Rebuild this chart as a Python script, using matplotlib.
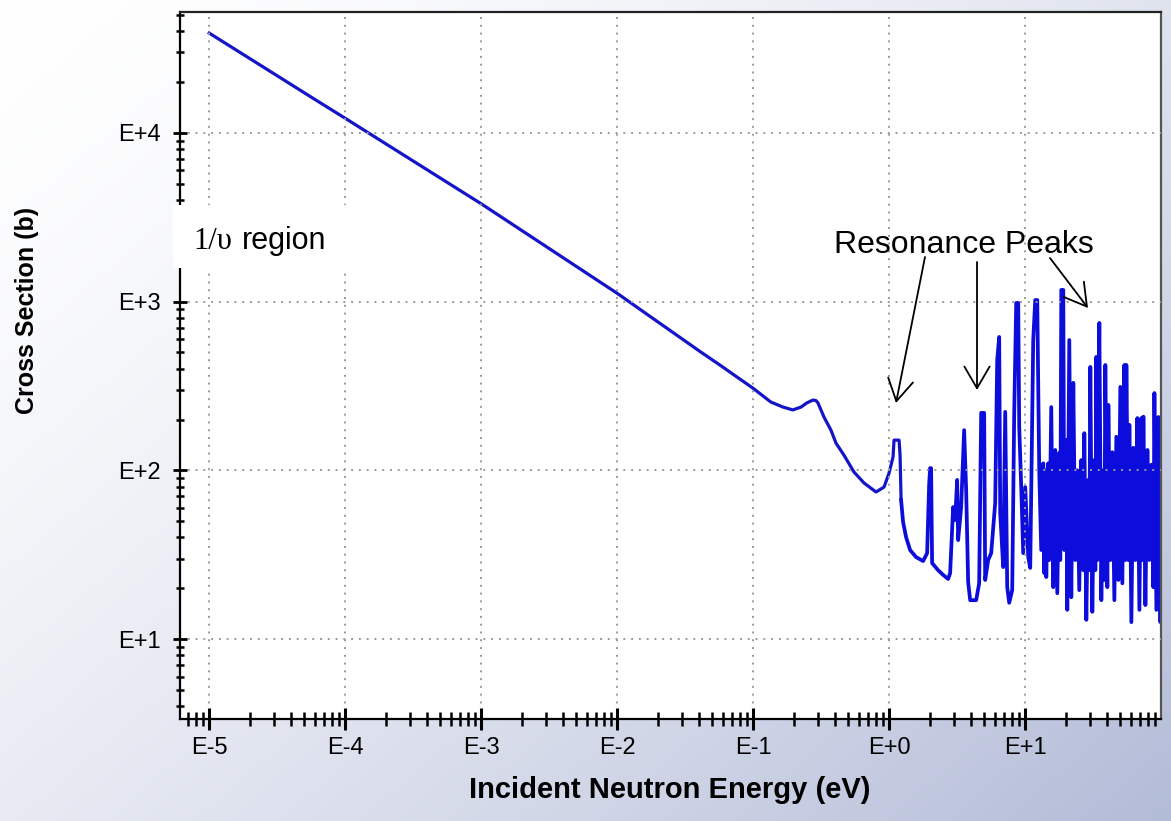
import numpy as np
import matplotlib
matplotlib.use("Agg")
import matplotlib.pyplot as plt
from matplotlib.patches import Rectangle, FancyArrowPatch
from matplotlib.ticker import LogLocator, NullFormatter, FixedLocator, FixedFormatter

plt.rcParams['font.family'] = ['Liberation Sans', 'DejaVu Sans']

# smooth part: 1/v region and the first bumps (energy in eV, cross section in barns)
thermal_energy = [1.0e-5, 6.2e-5, 1.0e-4, 1.0e-3, 1.0e-2, 0.0413, 0.0579, 0.0722,
                  0.0997, 0.135, 0.166, 0.196, 0.225, 0.249, 0.276, 0.290, 0.300,
                  0.332, 0.374, 0.407, 0.466, 0.552, 0.655, 0.802, 0.919, 1.0,
                  1.07, 1.088, 1.185, 1.205]
thermal_xs = [39000, 15500, 12200, 3800, 1120, 502, 417, 368,
              307, 254, 237, 228, 237, 251, 261, 259, 251,
              207, 173, 145, 123, 97.7, 84.1, 74.4, 79.6, 96.4,
              120, 151, 151, 123]

# resonance region up to ~12 eV
res_energy = [1.226, 1.268, 1.334, 1.428, 1.580, 1.780, 1.905, 1.971, 2.004, 2.038,
              2.073, 2.295, 2.498, 2.720, 2.813, 2.960, 3.062, 3.168, 3.222, 3.390,
              3.566, 3.690, 3.817, 3.950, 4.372, 4.599, 4.759, 5.006, 5.092, 5.358,
              5.638, 6.034, 6.243, 6.457, 6.568, 6.911, 7.150, 7.396, 7.650, 8.049,
              8.327, 8.614, 8.911, 9.064, 9.376, 9.699, 10.03, 10.56, 10.92, 11.49,
              11.89, 12.30]
res_xs = [66.7, 49.4, 40.2, 33.7, 30.6, 29.0, 32.3, 81.7, 103, 103,
          28.2, 25.6, 24.0, 22.7, 24.6, 60.6, 50.8, 87.7, 38.6, 60.6,
          173, 76.4, 21.8, 17.0, 17.0, 21.4, 219, 219, 22.4, 29.4,
          32.3, 64.0, 451, 617, 55.8, 26.7, 222, 20.3, 16.4, 19.5,
          219, 981, 981, 181, 79.6, 32.3, 79.6, 30.6, 26.4, 592,
          1021, 1021]

# dense resonances above ~12 eV
dense_energy = [12.51, 12.73, 13.16, 13.62, 13.85, 14.09, 14.33, 14.82, 15.06, 15.59,
                16.13, 16.69, 17.27, 17.86, 18.16, 18.48, 19.11, 19.44, 20.11, 20.45,
                21.16, 21.89, 22.65, 23.42, 24.23, 25.05, 25.93, 26.83, 27.29, 28.23,
                29.20, 29.68, 30.21, 31.25, 32.33, 32.88, 33.44, 34.01, 35.19, 36.40,
                37.65, 38.30, 38.95, 40.30, 41.00, 42.41, 43.87, 45.39, 46.95, 48.57,
                50.23, 51.97, 53.77, 54.68, 55.62, 57.54, 58.52, 60.54, 62.64, 64.79,
                67.03, 69.34, 71.73, 72.95, 74.20, 76.77, 79.41, 82.15, 84.98, 87.90,
                89.41, 92.49, 95.68, 98.99, 102.0]
dense_xs = [312, 96.4, 33.7, 110, 24.6, 100, 23.3, 110, 29.4, 237,
            20.3, 132, 18.7, 127, 29.4, 1172, 1172, 33.7, 151, 14.9,
            592, 17.7, 330, 29.4, 100, 19.5, 115, 25.6, 166, 13.0,
            87.7, 25.6, 410, 14.5, 115, 25.6, 470, 29.4, 747, 17.0,
            100, 22.4, 421, 20.3, 244, 29.4, 128, 17.0, 158, 22.4,
            312, 21.4, 421, 29.4, 421, 29.4, 186, 12.6, 136, 29.4,
            204, 14.9, 204, 29.4, 208, 15.9, 132, 29.4, 108, 20.3,
            287, 14.9, 207, 12.6, 87.7]

x_ticks = [1e-5, 1e-4, 1e-3, 1e-2, 1e-1, 1e0, 1e1]
x_labels = ['E-5', 'E-4', 'E-3', 'E-2', 'E-1', 'E+0', 'E+1']
y_ticks = [1e1, 1e2, 1e3, 1e4]
y_labels = ['E+1', 'E+2', 'E+3', 'E+4']

W, H = 1171, 821
fig = plt.figure(figsize=(W / 100, H / 100), dpi=100)


def px(x, y):
    # image pixel (from top-left) -> figure fraction
    return x / W, 1 - y / H


# gradient background
bg = fig.add_axes([0, 0, 1, 1], zorder=-10)
u, v = np.meshgrid(np.linspace(0, 1, 300), np.linspace(0, 1, 300))
t = np.clip(0.55 * u + 0.45 * v, 0, 1) ** 1.5
c0 = np.array([1.0, 1.0, 1.0])
c1 = np.array([0.70, 0.735, 0.845])
img = c0[None, None, :] * (1 - t[..., None]) + c1[None, None, :] * t[..., None]
bg.imshow(img, aspect='auto', extent=[0, 1, 0, 1], interpolation='bilinear')
bg.axis('off')

left, top = px(180, 12)
right, bottom = px(1161, 719)
ax = fig.add_axes([left, bottom, right - left, top - bottom])
ax.set_facecolor('white')

ax.plot(thermal_energy + res_energy[:1], thermal_xs + res_xs[:1],
        color='#1414c8', lw=2.3, zorder=2)
ax.plot(res_energy + dense_energy, res_xs + dense_xs,
        color='#0c0cdc', lw=2.7, zorder=2)

ax.set_xscale('log')
ax.set_yscale('log')
ax.set_xlim(6.1e-6, 100)
ax.set_ylim(3.36, 52000)

ax.xaxis.set_major_locator(FixedLocator(x_ticks))
ax.xaxis.set_major_formatter(FixedFormatter(x_labels))
ax.yaxis.set_major_locator(FixedLocator(y_ticks))
ax.yaxis.set_major_formatter(FixedFormatter(y_labels))
for axis in (ax.xaxis, ax.yaxis):
    axis.set_minor_locator(LogLocator(base=10, subs=np.arange(2, 10), numticks=30))
    axis.set_minor_formatter(NullFormatter())

ax.tick_params(axis='x', which='major', direction='inout', length=16, width=2.2,
               labelsize=17, pad=5)
ax.tick_params(axis='x', which='minor', direction='inout', length=9.5, width=1.8)
ax.tick_params(axis='y', which='major', direction='inout', length=9.5, width=2.0,
               labelsize=17, pad=9)
ax.tick_params(axis='y', which='minor', direction='inout', length=5.5, width=1.8)

ax.grid(True, which='major', color='#9a9a9a', linestyle=(0, (1, 3)), linewidth=1.4)
ax.set_axisbelow(False)

ax.spines['left'].set_linewidth(1.6)
ax.spines['bottom'].set_linewidth(1.6)
ax.spines['top'].set_linewidth(1.6)
ax.spines['top'].set_color('#222222')
ax.spines['right'].set_linewidth(1.6)
ax.spines['right'].set_color('#555555')

# axis labels
fig.text(*px(670, 790), 'Incident Neutron Energy (eV)', ha='center', va='center',
         fontsize=21, fontweight='bold')
fig.text(*px(27, 310), 'Cross Section (b)', ha='center', va='center', rotation=90,
         fontsize=18, fontweight='bold')

# "1/v region" label on a white box
bx0, by0 = px(173, 268)
bx1, by1 = px(355, 205)
fig.add_artist(Rectangle((bx0, by0), bx1 - bx0, by1 - by0, transform=fig.transFigure,
                         facecolor='white', edgecolor='none', zorder=5))
fig.text(*px(193, 249), '1/\u03c5', ha='left', va='baseline', fontsize=22,
         family=['Liberation Serif', 'DejaVu Serif'], zorder=6)
fig.text(*px(242, 249), 'region', ha='left', va='baseline', fontsize=22, zorder=6)

# resonance annotation
fig.text(*px(964, 253), 'Resonance Peaks', ha='center', va='baseline', fontsize=23,
         zorder=6)
arrows = [((925, 257), (896, 403)), ((977, 262), (977, 390)), ((1050, 258), (1088, 308))]
for (x0, y0), (x1, y1) in arrows:
    fig.add_artist(FancyArrowPatch(
        px(x0, y0), px(x1, y1), transform=fig.transFigure,
        arrowstyle='->,head_length=0.6,head_width=0.35', mutation_scale=26,
        color='black', lw=1.3, shrinkA=0, shrinkB=0, zorder=6))

fig.savefig('out.png', dpi=100)
